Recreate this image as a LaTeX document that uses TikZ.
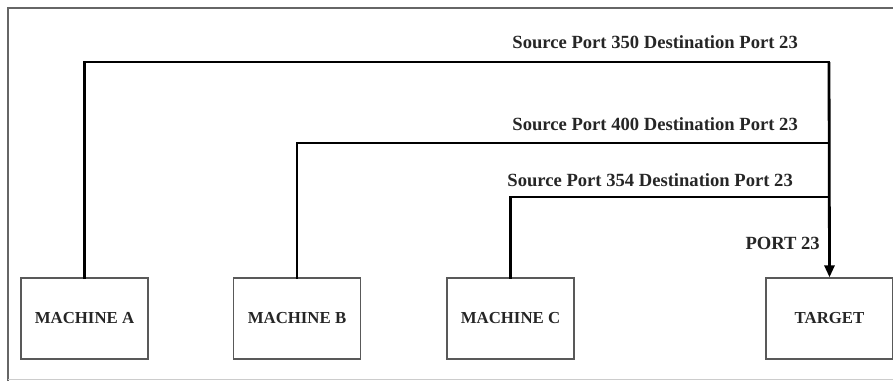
\documentclass[tikz,border=0pt]{standalone}
\usepackage{fontspec}
\setmainfont{Liberation Serif}
\usetikzlibrary{arrows.meta}
\begin{document}
\begin{tikzpicture}[x=1pt,y=-1pt,
  frameline/.style={draw=black!60,line width=1.3pt},
  machinebox/.style={draw=black!65,line width=1.3pt,minimum width=127pt,minimum height=81pt,inner sep=0pt,font=\fontsize{16.8}{19}\selectfont\bfseries,text=black!85},
  conn/.style={line width=2.8pt,line cap=rect},
  lbl/.style={anchor=east,inner sep=0pt,font=\fontsize{18.6}{21}\selectfont\bfseries,text=black!85}]
\useasboundingbox (0,0) rectangle (893,381);
\draw[frameline] (8,381) -- (8,8) -- (893,8);
\draw[black!20,line width=1pt] (8,379) -- (893,379);
\node[machinebox] (A) at (84.5,318.5) {MACHINE A};
\node[machinebox] (B) at (297,318.5) {MACHINE B};
\node[machinebox] (C) at (510.5,318.5) {MACHINE C};
\node[machinebox] (T) at (829.5,318.5) {TARGET};
\coordinate (kA) at (829,62);
\coordinate (kB) at (829,143);
\coordinate (kC) at (829,197);
\draw[conn] (A.north) |- (kA);
\draw[conn] (B.north) |- (kB);
\draw[conn] (C.north) |- (kC);
\draw[line width=2.8pt,-{Triangle[length=12pt,width=10pt]}] (kA) -- (T.north);
\node[lbl] (l1) at (798,42) {Source Port 350 Destination Port 23};
\node[lbl] (l2) at (798,124) {Source Port 400 Destination Port 23};
\node[lbl] (l3) at (793,180) {Source Port 354 Destination Port 23};
\node[lbl] (p) at (820,243) {PORT 23};
\end{tikzpicture}
\end{document}
